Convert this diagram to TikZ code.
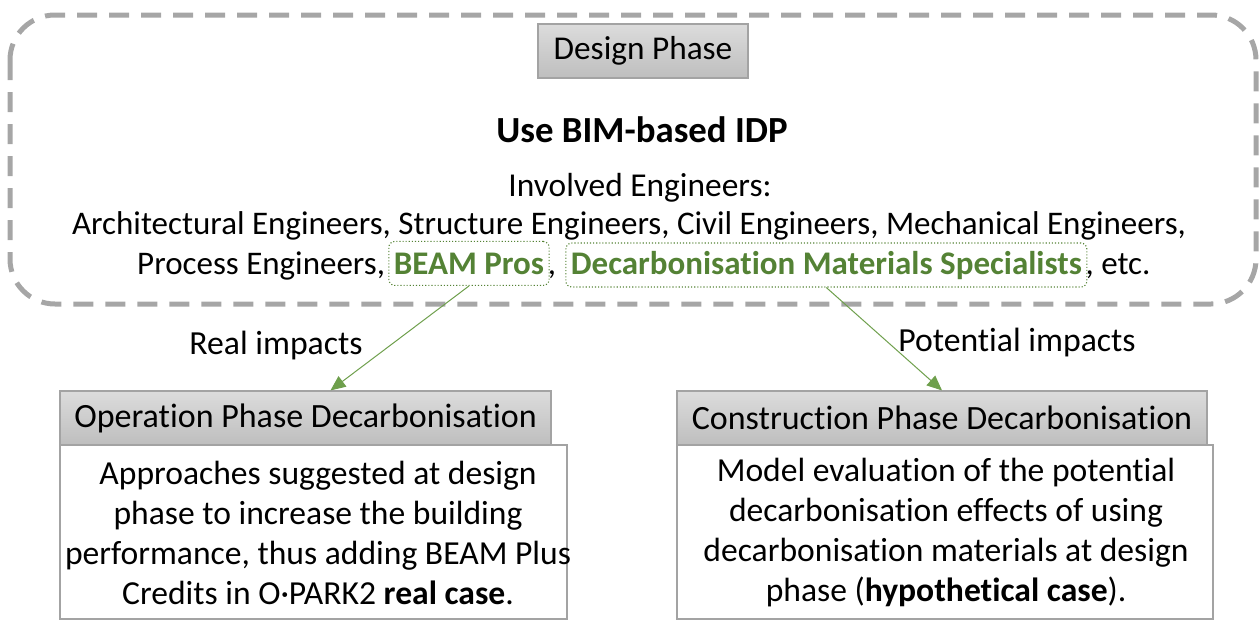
\documentclass[tikz,border=0pt]{standalone}
\usepackage{fontspec}
\setmainfont{Carlito}[RawFeature={-liga}]
\usetikzlibrary{arrows.meta,positioning}

\definecolor{framegray}{HTML}{A6A6A6}
\definecolor{beamgreen}{HTML}{548235}
\definecolor{linkgreen}{HTML}{6E9F4C}
\definecolor{headtop}{HTML}{DCDCDC}
\definecolor{headbot}{HTML}{BEBEBE}
\definecolor{boxline}{HTML}{A3A3A3}

\begin{document}
\begin{tikzpicture}[x=1pt,y=-1pt,
  txt/.style={font=\fontsize{33}{40}\selectfont, inner sep=0pt},
  header/.style={draw=boxline, line width=1.2pt, top color=headtop, bottom color=headbot,
    font=\fontsize{34}{40}\selectfont, inner sep=0pt},
  bodybox/.style={draw=boxline, line width=1.5pt, fill=white, inner sep=0pt},
  bodytext/.style={font=\fontsize{33.6}{40}\selectfont, align=center, inner sep=0pt},
  greenbox/.style={draw=beamgreen, dotted, line width=1.1pt, rounded corners=6pt,
    text=beamgreen, font=\fontsize{33}{40}\selectfont\bfseries,
    inner xsep=5pt, inner ysep=0pt, minimum height=44pt},
  link/.style={draw=linkgreen, line width=1pt, -{Triangle[length=15pt,width=13pt,fill=linkgreen]}},
  lbl/.style={font=\fontsize{33.7}{40}\selectfont, inner sep=0pt}
]
\useasboundingbox (0,0) rectangle (1260,621);

% dashed frame of the design phase
\draw[framegray, line width=5pt, dash pattern=on 20pt off 12pt, rounded corners=45pt]
  (10,15) rectangle (1256,304);

% design phase block
\node[header, minimum width=210pt, minimum height=54pt, font=\fontsize{33.3}{40}\selectfont] (design) at (643,51) {Design Phase};
\node[txt, anchor=base, font=\fontsize{36.8}{40}\selectfont\bfseries] (idp) at (642,142) {Use BIM-based IDP};
\node[txt, anchor=base, font=\fontsize{33.4}{40}\selectfont] (inv) at (640,196) {Involved Engineers:};
\node[txt, anchor=base] (eng1) at (629,234)
  {Architectural Engineers, Structure Engineers, Civil Engineers, Mechanical Engineers,};

% last line, built piece by piece so the two specialist groups get their own boxes
\node[txt, anchor=base west] (proc) at (137,274) {Process Engineers,};
\node[greenbox, anchor=base west, xshift=3pt] (beam) at (proc.base east) {BEAM Pros};
\node[txt, anchor=base west, xshift=-2pt] (c1) at (beam.base east) {,};
\node[greenbox, anchor=base west, xshift=9pt] (decarb) at (c1.base east) {Decarbonisation Materials Specialists};
\node[txt, anchor=base west, xshift=-2pt] (etc) at (decarb.base east) {, etc.};

% operation phase
\node[header, minimum width=491pt, minimum height=54pt] (ophead) at (305.5,418) {Operation Phase Decarbonisation};
\node[bodybox, minimum width=507pt, minimum height=174pt] (opbody) at (313.5,532) {};
\node[bodytext] (optext) at (318,533) {Approaches suggested at design\\phase to increase the building\\performance, thus adding BEAM Plus\\Credits in O·PARK2 \textbf{real case}.};

% construction phase
\node[header, minimum width=530pt, minimum height=54pt] (cohead) at (942,418) {Construction Phase Decarbonisation};
\node[bodybox, minimum width=536pt, minimum height=174pt] (cobody) at (945,532) {};
\node[bodytext] (cotext) at (946,533) {Model evaluation of the potential\\decarbonisation effects of using\\decarbonisation materials at design\\phase (\textbf{hypothetical case}).};

% impact links
\draw[link] (beam.south) -- ([xshift=25pt]ophead.north);
\draw[link] (decarb.south) -- (cohead.north);
\node[lbl] (real) at (276,346) {Real impacts};
\node[lbl] (pot) at (1017,343) {Potential impacts};
\end{tikzpicture}
\end{document}
